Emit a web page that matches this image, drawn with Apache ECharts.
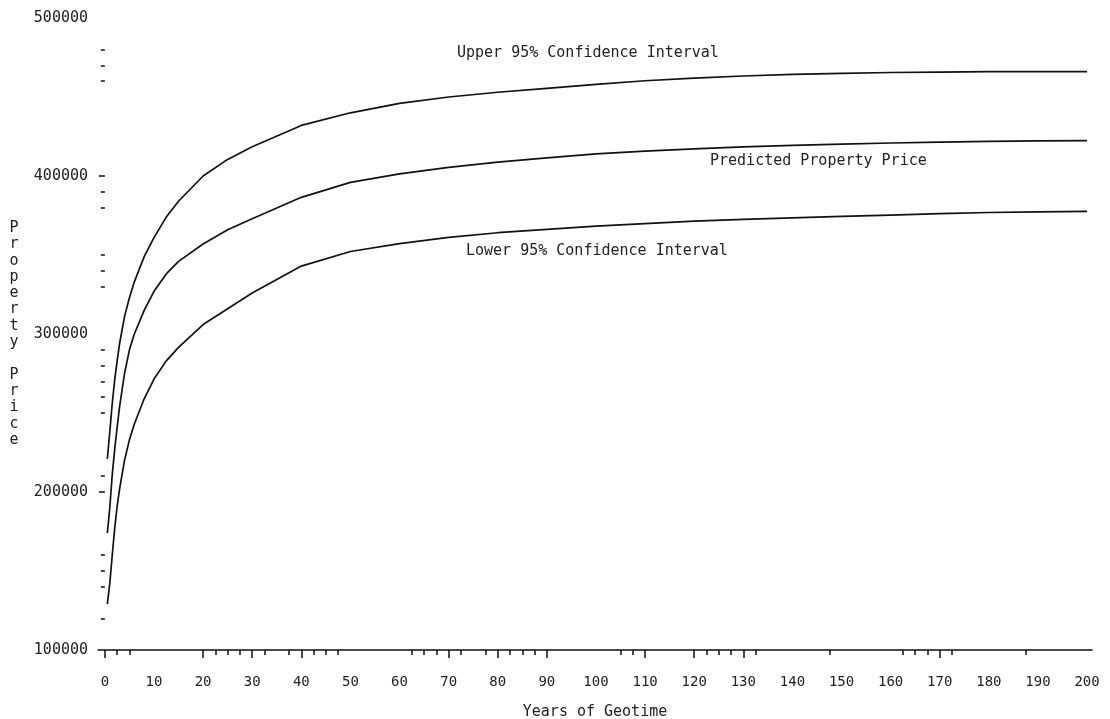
<!DOCTYPE html>
<html>
<head>
<meta charset="utf-8">
<script src="https://cdn.jsdelivr.net/npm/echarts@6/dist/echarts.min.js"></script>
<style>
  html, body { margin: 0; padding: 0; background: #fff; }
  #chart { width: 1110px; height: 719px; }
</style>
</head>
<body>
<div id="chart"></div>
<script>
  var years = [0.5, 1, 1.5, 2, 2.5, 3, 4, 5, 6, 8, 10, 12.5, 15, 20, 25, 30, 40, 50, 60, 70, 80, 90, 100, 110, 120, 130, 140, 150, 160, 170, 180, 190, 200]
  var upper = [221000, 238000, 256000, 271000, 283000, 294000, 311000, 323000, 333000, 349000, 361000, 374000, 384000, 400000, 410500, 418500, 432000, 440000, 446000, 450000, 453000, 455500, 458000, 460300, 462000, 463300, 464300, 465000, 465500, 465800, 466000, 466000, 466000]
  var predicted = [174000, 190000, 211000, 227000, 241000, 254000, 275000, 290000, 300000, 315000, 327000, 338000, 346000, 357000, 366000, 373000, 386500, 396000, 401300, 405500, 408800, 411500, 414000, 415700, 417200, 418400, 419400, 420200, 420900, 421500, 421900, 422200, 422400]
  var lower = [129000, 142000, 160000, 177000, 191000, 202000, 220000, 233000, 243000, 259000, 271500, 283000, 291500, 306000, 316000, 326000, 343000, 352200, 357200, 361200, 364100, 366200, 368300, 369900, 371500, 372600, 373500, 374400, 375300, 376200, 376900, 377300, 377600]

  // tick labels and tick marks (minor ticks are irregular in the original plot)
  var xLabels = [0, 10, 20, 30, 40, 50, 60, 70, 80, 90, 100, 110, 120, 130, 140, 150, 160, 170, 180, 190, 200]
  var xMajorTicks = [0, 20, 30, 40, 70, 80, 90, 110, 120, 130, 170]
  var xMinorTicks = [2.5, 5, 22.5, 25, 27.5, 32.5, 37.5, 42.5, 45, 47.5, 62.5, 65, 67.5, 72.5, 77.5, 82.5, 85, 87.5, 105, 107.5, 122.5, 125, 127.5, 132.5, 147.5, 162.5, 165, 167.5, 172.5, 187.5]
  var yLabels = [100000, 200000, 300000, 400000, 500000]
  var yMajorTicks = [200000, 400000]
  var yMinorTicks = [120000, 140000, 150000, 160000, 210000, 250000, 260000, 270000, 280000, 290000, 330000, 340000, 350000, 380000, 390000, 460000, 470000, 480000]

  function pairs(xs, ys) {
    return xs.map(function (x, i) { return [x, ys[i]] })
  }

  var font = 'DejaVu Sans Mono'
  var ink = '#222'

  var chart = echarts.init(document.getElementById('chart'))
  var options = {
    backgroundColor: '#fff',
    animation: false,
    grid: {
      left: 98,
      right: 18,
      top: 18,
      bottom: 69,
      outerBoundsMode: 'none',
      containLabel: false
    },
    xAxis: [{
      type: 'value',
      min: -1.4,
      max: 201,
      name: 'Years of Geotime',
      nameLocation: 'middle',
      nameGap: 55,
      nameTextStyle: { fontFamily: font, fontSize: 15, color: ink },
      splitLine: { show: false },
      axisLine: { show: true, lineStyle: { color: '#111', width: 1.5 } },
      axisTick: { show: true, customValues: xMajorTicks, length: 8, lineStyle: { color: '#111', width: 1.5 } },
      axisLabel: { customValues: xLabels, margin: 25, fontFamily: font, fontSize: 14, color: ink }
    }, {
      type: 'value',
      min: -1.4,
      max: 201,
      position: 'bottom',
      splitLine: { show: false },
      axisLine: { show: false },
      axisTick: { show: true, customValues: xMinorTicks, length: 5, lineStyle: { color: '#111', width: 1.5 } },
      axisLabel: { show: false }
    }],
    yAxis: [{
      type: 'value',
      min: 100000,
      max: 500000,
      offset: 0,
      name: 'P\nr\no\np\ne\nr\nt\ny\n\nP\nr\ni\nc\ne',
      nameLocation: 'middle',
      nameRotate: 0,
      nameGap: 84,
      nameTextStyle: { fontFamily: font, fontSize: 15, color: ink, lineHeight: 16.3, align: 'center', verticalAlign: 'middle', padding: [14, 0, 0, 0] },
      splitLine: { show: false },
      axisLine: { show: false },
      axisTick: { show: true, customValues: yMajorTicks, length: 6, lineStyle: { color: '#111', width: 1.5 } },
      axisLabel: {
        customValues: yLabels,
        margin: 10,
        fontFamily: font,
        fontSize: 15,
        color: ink,
        formatter: function (v) { return String(v) }
      }
    }, {
      type: 'value',
      min: 100000,
      max: 500000,
      offset: 0,
      position: 'left',
      splitLine: { show: false },
      axisLine: { show: false },
      axisTick: { show: true, customValues: yMinorTicks, length: 4, lineStyle: { color: '#111', width: 1.5 } },
      axisLabel: { show: false }
    }],
    graphic: [
      { type: 'text', left: 457, top: 46, style: { text: 'Upper 95% Confidence Interval', font: '15px "DejaVu Sans Mono"', fill: ink } },
      { type: 'text', left: 710, top: 154, style: { text: 'Predicted Property Price', font: '15px "DejaVu Sans Mono"', fill: ink } },
      { type: 'text', left: 466, top: 244, style: { text: 'Lower 95% Confidence Interval', font: '15px "DejaVu Sans Mono"', fill: ink } }
    ],
    series: [{
      name: 'Upper 95% Confidence Interval',
      type: 'line',
      data: pairs(years, upper),
      showSymbol: false,
      smooth: false,
      lineStyle: { color: '#111', width: 1.7 }
    }, {
      name: 'Predicted Property Price',
      type: 'line',
      data: pairs(years, predicted),
      showSymbol: false,
      smooth: false,
      lineStyle: { color: '#111', width: 1.7 }
    }, {
      name: 'Lower 95% Confidence Interval',
      type: 'line',
      data: pairs(years, lower),
      showSymbol: false,
      smooth: false,
      lineStyle: { color: '#111', width: 1.7 }
    }]
  }

  chart.setOption(options, true)
</script>
</body>
</html>
